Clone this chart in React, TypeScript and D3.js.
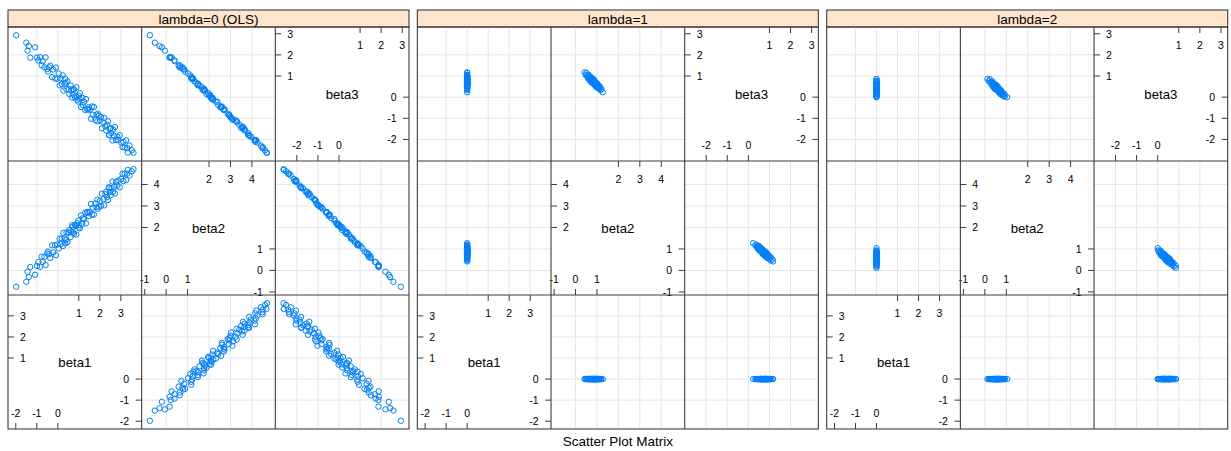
import React from 'react';
import * as d3 from 'd3';

// Panel titles (one per penalty value) and the matrix variables
const lambdaLabels = ['lambda=0 (OLS)', 'lambda=1', 'lambda=2'];
const varNames = ['beta1', 'beta2', 'beta3'];

// Tick labels drawn on the diagonal cells, and reference-grid positions
const beta1Ticks = [-2, -1, 0, 1, 2, 3];
const beta2Ticks = [-1, 0, 1, 2, 3, 4];
const beta3Ticks = [-2, -1, 0, 1, 2, 3];
const beta1Grid = [-1, 0, 1, 2, 3];
const beta2Grid = [0, 1, 2, 3, 4];
const beta3Grid = [-2, -1, 0, 1, 2];

// lambda = 0 (OLS) coefficient draws
const olsBeta1 = [
  -1.98, -1.50, -1.44, -1.38, -1.31, -1.08, -0.99, -0.93, -0.84, -0.77,
  -0.72, -0.64, -0.58, -0.47, -0.41, -0.36, -0.27, -0.22, -0.13, -0.09,
  -0.02, 0.04, 0.09, 0.13, 0.19, 0.24, 0.27, 0.33, 0.38, 0.41,
  0.46, 0.52, 0.55, 0.61, 0.64, 0.68, 0.73, 0.77, 0.82, 0.86,
  0.88, 0.93, 0.97, 1.02, 1.05, 1.11, 1.16, 1.19, 1.25, 1.31,
  1.34, 1.40, 1.47, 1.52, 1.58, 1.63, 1.66, 1.72, 1.79, 1.84,
  1.88, 1.95, 2.01, 2.06, 2.10, 2.17, 2.21, 2.26, 2.30, 2.34,
  2.39, 2.43, 2.47, 2.52, 2.55, 2.60, 2.63, 2.68, 2.72, 2.77,
  2.83, 2.88, 2.95, 3.02, 3.08, 3.12, 3.18, 3.25, 3.30, 3.33,
  3.41, 3.52, 3.60, 0.70, 1.00, 1.45, 0.35, 2.45, -0.50, 1.90,
];
const olsBeta2 = [
  -0.76, -0.53, -0.06, -0.31, 0.16, -0.20, 0.21, 0.39, 0.17, 0.64,
  0.40, 0.63, 0.25, 0.88, 0.76, 0.58, 1.17, 0.84, 1.17, 0.71,
  1.21, 1.02, 1.48, 1.23, 1.48, 1.13, 1.75, 1.48, 1.41, 1.77,
  1.32, 1.76, 1.88, 1.56, 1.82, 2.10, 1.77, 1.69, 2.12, 2.07,
  1.67, 2.20, 2.32, 2.11, 1.96, 2.56, 2.16, 2.43, 2.39, 2.69,
  2.19, 2.72, 2.53, 2.72, 3.09, 2.60, 2.92, 2.60, 3.12, 2.94,
  3.29, 2.96, 3.24, 3.00, 3.57, 3.32, 3.03, 3.55, 3.66, 3.41,
  3.28, 3.87, 3.65, 3.50, 3.82, 4.14, 3.66, 3.89, 3.58, 4.12,
  3.95, 4.18, 3.87, 4.26, 4.50, 4.16, 4.50, 4.20, 4.50, 4.68,
  4.42, 4.61, 4.71, 2.03, 2.00, 2.68, 1.26, 3.83, 0.79, 2.87,
];
const olsBeta3 = [
  2.93, 2.58, 2.20, 2.42, 1.87, 2.36, 1.87, 1.74, 1.89, 1.51,
  1.70, 1.41, 1.88, 1.21, 1.41, 1.49, 0.95, 1.31, 0.88, 1.40,
  0.87, 1.12, 0.56, 0.90, 0.62, 1.03, 0.31, 0.64, 0.68, 0.38,
  0.75, 0.38, 0.15, 0.55, 0.31, -0.02, 0.39, 0.36, -0.02, 0.05,
  0.47, -0.13, -0.21, -0.07, 0.19, -0.47, -0.03, -0.37, -0.22, -0.61,
  -0.09, -0.58, -0.48, -0.60, -1.02, -0.44, -0.83, -0.47, -1.08, -0.83,
  -1.14, -0.88, -1.10, -0.94, -1.47, -1.19, -0.98, -1.39, -1.58, -1.30,
  -1.14, -1.80, -1.50, -1.46, -1.70, -2.05, -1.53, -1.83, -1.41, -2.02,
  -1.87, -2.03, -1.80, -2.15, -2.36, -2.11, -2.38, -2.04, -2.41, -2.62,
  -2.29, -2.51, -2.63, 0.12, 0.07, -0.57, 0.88, -1.79, 1.33, -0.78,
];

// lambda = 1 coefficient draws (beta1 shrunk to zero)
const lam1Beta1 = [
  0, 0, 0, 0, 0, 0, 0, 0, 0, 0, 0, 0, 0, 0, 0, 0, 0, 0, 0, 0,
  0, 0, 0, 0, 0, 0, 0, 0, 0, 0, 0, 0, 0, 0, 0, 0, 0, 0, 0, 0,
  0, 0, 0, 0, 0, 0, 0, 0, 0, 0, 0, 0, 0, 0, 0, 0, 0, 0, 0, 0,
];
const lam1Beta2 = [
  0.42, 0.47, 0.51, 0.55, 0.58, 0.60, 0.62, 0.64, 0.66, 0.68,
  0.69, 0.71, 0.72, 0.74, 0.75, 0.77, 0.78, 0.79, 0.81, 0.82,
  0.83, 0.84, 0.86, 0.87, 0.88, 0.89, 0.90, 0.92, 0.93, 0.94,
  0.95, 0.97, 0.98, 0.99, 1.00, 1.02, 1.03, 1.05, 1.06, 1.08,
  1.10, 1.12, 1.14, 1.17, 1.20, 1.27, 0.70, 0.85, 0.91, 0.80,
  0.96, 0.76, 1.01, 0.88, 0.65, 0.73, 1.04, 0.83, 0.93, 0.57,
];
const lam1Beta3 = [
  1.17, 1.05, 1.15, 1.01, 0.90, 1.00, 1.06, 0.86, 0.92, 0.78,
  0.95, 0.83, 0.88, 0.92, 0.69, 0.79, 0.84, 0.73, 0.83, 0.66,
  0.75, 0.84, 0.64, 0.73, 0.66, 0.77, 0.56, 0.64, 0.69, 0.58,
  0.69, 0.47, 0.60, 0.61, 0.50, 0.64, 0.51, 0.57, 0.42, 0.48,
  0.50, 0.40, 0.50, 0.33, 0.38, 0.23, 0.96, 0.63, 0.69, 0.76,
  0.56, 0.86, 0.57, 0.76, 0.81, 0.81, 0.56, 0.85, 0.57, 0.99,
];

// lambda = 2 coefficient draws
const lam2Beta1 = [
  0, 0, 0, 0, 0, 0, 0, 0, 0, 0, 0, 0, 0, 0, 0, 0, 0, 0, 0, 0,
  0, 0, 0, 0, 0, 0, 0, 0, 0, 0, 0, 0, 0, 0, 0, 0, 0, 0, 0, 0,
  0, 0, 0, 0, 0, 0, 0, 0, 0, 0, 0, 0, 0, 0, 0, 0, 0, 0, 0, 0,
];
const lam2Beta2 = [
  0.12, 0.18, 0.23, 0.27, 0.30, 0.33, 0.35, 0.37, 0.39, 0.41,
  0.42, 0.44, 0.45, 0.47, 0.48, 0.50, 0.51, 0.52, 0.54, 0.55,
  0.56, 0.57, 0.59, 0.60, 0.61, 0.62, 0.64, 0.65, 0.66, 0.68,
  0.69, 0.70, 0.72, 0.73, 0.75, 0.76, 0.78, 0.80, 0.82, 0.84,
  0.86, 0.89, 0.92, 0.93, 1.04, 0.46, 0.53, 0.58, 0.63, 0.49,
  0.67, 0.43, 0.71, 0.55, 0.38, 0.60, 0.74, 0.52, 0.64, 0.28,
];
const lam2Beta3 = [
  0.86, 0.76, 0.85, 0.71, 0.60, 0.69, 0.75, 0.55, 0.61, 0.47,
  0.64, 0.52, 0.57, 0.61, 0.38, 0.48, 0.53, 0.42, 0.52, 0.35,
  0.44, 0.53, 0.33, 0.42, 0.35, 0.46, 0.24, 0.33, 0.38, 0.26,
  0.37, 0.16, 0.28, 0.29, 0.17, 0.32, 0.18, 0.24, 0.08, 0.14,
  0.16, 0.05, 0.14, 0.02, 0.00, 0.40, 0.55, 0.32, 0.39, 0.49,
  0.27, 0.61, 0.29, 0.51, 0.50, 0.36, 0.28, 0.58, 0.28, 0.70,
];

const WIDTH = 1231;
const HEIGHT = 451;
const PANEL_LEFT = 8;
const PANEL_W = 401;
const PANEL_GAP = 8.35;
const STRIP_TOP = 10;
const STRIP_H = 17;
const PLOT_TOP = STRIP_TOP + STRIP_H;
const PLOT_H = 402;
const CELL_W = PANEL_W / 3;
const CELL_H = PLOT_H / 3;
const TICK = 6;

const FONT = '"Liberation Sans", Arial, Helvetica, sans-serif';
const BORDER = '#3c3c3c';
const GRID = '#e6e6e6';
const POINT = '#0080ff';
const STRIP_FILL = '#ffe5cc';

const panelData = [
  [olsBeta1, olsBeta2, olsBeta3],
  [lam1Beta1, lam1Beta2, lam1Beta3],
  [lam2Beta1, lam2Beta2, lam2Beta3],
];
const tickSets = [beta1Ticks, beta2Ticks, beta3Ticks];
const gridSets = [beta1Grid, beta2Grid, beta3Grid];

export default function App() {
  // shared limits per variable: full data range padded by 7% on each side
  const limits = [0, 1, 2].map((v) => {
    const all = panelData.flatMap((p) => p[v]);
    const [lo, hi] = d3.extent(all) as [number, number];
    const pad = (hi - lo) * 0.07;
    return [lo - pad, hi + pad] as [number, number];
  });
  const xs = limits.map((l) => d3.scaleLinear().domain(l).range([0, CELL_W]));
  const ys = limits.map((l) => d3.scaleLinear().domain(l).range([CELL_H, 0]));
  const panelX = (i: number) => PANEL_LEFT + i * (PANEL_W + PANEL_GAP);

  const diagonal = (v: number) => {
    const sx = xs[v];
    const sy = ys[v];
    const mid = (limits[v][0] + limits[v][1]) / 2;
    const upper = tickSets[v].filter((t) => t > mid);
    const lower = tickSets[v].filter((t) => t <= mid);
    const ts = { fontFamily: FONT, fontSize: 10.5, fill: '#000' } as const;
    return (
      <g>
        <text x={CELL_W / 2} y={CELL_H / 2} textAnchor="middle" dominantBaseline="central"
          style={{ fontFamily: FONT, fontSize: 13.2, fill: '#000' }}>{varNames[v]}</text>
        {upper.map((t) => (
          <g key={'l' + t}>
            <line x1={0} x2={TICK} y1={sy(t)} y2={sy(t)} stroke={BORDER} />
            <text x={12} y={sy(t)} dominantBaseline="central" textAnchor="start" style={ts}>{t}</text>
          </g>
        ))}
        {lower.map((t) => (
          <g key={'r' + t}>
            <line x1={CELL_W - TICK} x2={CELL_W} y1={sy(t)} y2={sy(t)} stroke={BORDER} />
            <text x={CELL_W - 12.5} y={sy(t)} dominantBaseline="central" textAnchor="end" style={ts}>{t}</text>
          </g>
        ))}
        {upper.map((t) => (
          <g key={'t' + t}>
            <line x1={sx(t)} x2={sx(t)} y1={0} y2={TICK} stroke={BORDER} />
            <text x={sx(t)} y={18} dominantBaseline="central" textAnchor="middle" style={ts}>{t}</text>
          </g>
        ))}
        {lower.map((t) => (
          <g key={'b' + t}>
            <line x1={sx(t)} x2={sx(t)} y1={CELL_H - TICK} y2={CELL_H} stroke={BORDER} />
            <text x={sx(t)} y={CELL_H - 16} dominantBaseline="central" textAnchor="middle" style={ts}>{t}</text>
          </g>
        ))}
      </g>
    );
  };

  const scatter = (cols: number[][], xv: number, yv: number) => {
    const sx = xs[xv];
    const sy = ys[yv];
    return (
      <g>
        {gridSets[xv].map((t) => (
          <line key={'gv' + t} x1={sx(t)} x2={sx(t)} y1={0} y2={CELL_H} stroke={GRID} strokeWidth={1} />
        ))}
        {gridSets[yv].map((t) => (
          <line key={'gh' + t} x1={0} x2={CELL_W} y1={sy(t)} y2={sy(t)} stroke={GRID} strokeWidth={1} />
        ))}
        {cols[xv].map((xval, i) => (
          <circle key={i} cx={sx(xval)} cy={sy(cols[yv][i])} r={2.7}
            fill="none" stroke={POINT} strokeWidth={1} />
        ))}
      </g>
    );
  };

  return (
    <svg width={WIDTH} height={HEIGHT} viewBox={`0 0 ${WIDTH} ${HEIGHT}`}
      style={{ position: 'absolute', left: 0, top: 0, background: '#fff' }}>
      <rect x={0} y={0} width={WIDTH} height={HEIGHT} fill="#fff" />
      {panelData.map((cols, p) => (
        <g key={p} transform={`translate(${panelX(p)},0)`}>
          <rect x={0} y={STRIP_TOP} width={PANEL_W} height={STRIP_H} fill={STRIP_FILL}
            stroke={BORDER} strokeWidth={1.1} />
          <text x={PANEL_W / 2} y={STRIP_TOP + STRIP_H / 2 + 0.5} textAnchor="middle" dominantBaseline="central"
            style={{ fontFamily: FONT, fontSize: 13.6, fill: '#000' }}>{lambdaLabels[p]}</text>
          {[0, 1, 2].map((r) => [0, 1, 2].map((c) => {
            const yv = 2 - r;
            const xv = c;
            return (
              <g key={`${r}-${c}`} transform={`translate(${c * CELL_W},${PLOT_TOP + r * CELL_H})`}>
                {xv === yv ? diagonal(xv) : scatter(cols, xv, yv)}
              </g>
            );
          }))}
          {[1, 2].map((k) => (
            <g key={'div' + k}>
              <line x1={k * CELL_W} x2={k * CELL_W} y1={PLOT_TOP} y2={PLOT_TOP + PLOT_H} stroke={BORDER} strokeWidth={1.1} />
              <line x1={0} x2={PANEL_W} y1={PLOT_TOP + k * CELL_H} y2={PLOT_TOP + k * CELL_H} stroke={BORDER} strokeWidth={1.1} />
            </g>
          ))}
          <rect x={0} y={PLOT_TOP} width={PANEL_W} height={PLOT_H} fill="none" stroke={BORDER} strokeWidth={1.1} />
        </g>
      ))}
      <text x={(panelX(0) + panelX(2) + PANEL_W) / 2} y={441.5} textAnchor="middle" dominantBaseline="central"
        style={{ fontFamily: FONT, fontSize: 13.5, fill: '#000' }}>Scatter Plot Matrix</text>
    </svg>
  );
}
